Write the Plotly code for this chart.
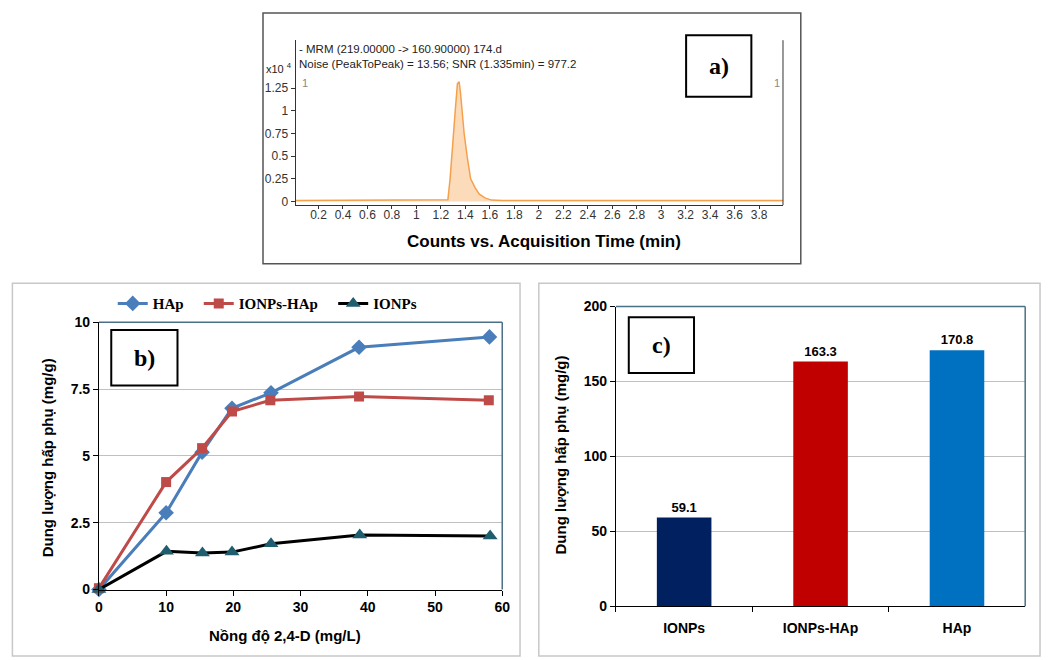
import plotly.graph_objects as go

# ---------------- data ----------------
# panel a: chromatogram (counts x10^4 vs acquisition time, min)
time_min = [0.013, 1.20, 1.257, 1.275, 1.294, 1.317, 1.335, 1.349, 1.36, 1.371, 1.39, 1.414, 1.443, 1.48, 1.514, 1.56, 1.614, 1.70, 3.995]
counts_x1e4 = [0.012, 0.012, 0.02, 0.25, 0.55, 1.0, 1.3, 1.32, 1.2, 1.0, 0.75, 0.5, 0.25, 0.15, 0.08, 0.04, 0.015, 0.012, 0.012]
a_yticks = [0, 0.25, 0.5, 0.75, 1, 1.25]
a_ytick_text = ["0", "0.25", "0.5", "0.75", "1", "1.25"]
a_header1 = "- MRM (219.00000 -> 160.90000) 174.d"
a_header2 = "Noise (PeakToPeak) = 13.56; SNR (1.335min) = 977.2"
a_xtitle = "Counts vs. Acquisition Time (min)"

# panel b: adsorption capacity vs 2,4-D concentration
hap_x = [0, 10.0, 15.35, 19.8, 25.6, 38.7, 58.1]
hap_y = [0, 2.87, 5.14, 6.78, 7.36, 9.06, 9.45]
ionps_hap_x = [0, 10.0, 15.35, 19.8, 25.5, 38.7, 58.0]
ionps_hap_y = [0.05, 4.02, 5.29, 6.66, 7.08, 7.22, 7.08]
ionps_x = [0, 10.05, 15.4, 19.8, 25.6, 38.8, 58.2]
ionps_y = [0, 1.43, 1.37, 1.40, 1.71, 2.04, 2.00]
b_yticks = [0, 2.5, 5, 7.5, 10]
b_ytick_text = ["0", "2.5", "5", "7.5", "10"]
b_xtitle = "Nồng độ 2,4-D (mg/L)"
ytitle = "Dung lượng hấp phụ (mg/g)"

# panel c: maximum adsorption capacity
c_categories = ["IONPs", "IONPs-HAp", "HAp"]
c_values = [59.1, 163.3, 170.8]
c_labels = ["59.1", "163.3", "170.8"]

# ---------------- styling ----------------
W, H = 1050, 660
def px(x):
    return x / W
def py(y):
    return 1 - y / H

ORANGE = "#F5A04A"
ORANGE_FILL = "rgba(250,200,150,0.65)"
BLUE = "#4A7EBB"
RED = "#BE4B48"
TEAL = "#1F5E6E"
FRAME = "#4A7088"
GRID = "#C0C0C0"
BAR_COLORS = ["#002060", "#C00000", "#0070C0"]
SANS = "Liberation Sans"
SERIF = "Liberation Serif"

fig = go.Figure()

# panel a
fig.add_trace(go.Scatter(x=time_min, y=counts_x1e4, mode="lines", fill="tozeroy",
                         line=dict(color=ORANGE, width=1.5), fillcolor=ORANGE_FILL,
                         showlegend=False, xaxis="x", yaxis="y", hoverinfo="skip"))

# panel b
fig.add_trace(go.Scatter(x=hap_x, y=hap_y, name="HAp", mode="lines+markers",
                         line=dict(color=BLUE, width=3),
                         marker=dict(symbol="diamond", size=12, color=BLUE),
                         cliponaxis=False, xaxis="x2", yaxis="y2", legend="legend"))
fig.add_trace(go.Scatter(x=ionps_hap_x, y=ionps_hap_y, name="IONPs-HAp", mode="lines+markers",
                         line=dict(color=RED, width=3),
                         marker=dict(symbol="square", size=10, color=RED),
                         cliponaxis=False, xaxis="x2", yaxis="y2", legend="legend2"))
fig.add_trace(go.Scatter(x=ionps_x, y=ionps_y, name="IONPs", mode="lines+markers",
                         line=dict(color="black", width=3),
                         marker=dict(symbol="triangle-up", size=13, color=TEAL),
                         cliponaxis=False, xaxis="x2", yaxis="y2", legend="legend3"))

# panel c
fig.add_trace(go.Bar(x=c_categories, y=c_values, text=c_labels, textposition="outside",
                     textfont=dict(family=SANS, size=13, color="black", weight="bold"),
                     marker=dict(color=BAR_COLORS, line=dict(width=0)), width=0.4,
                     cliponaxis=False, showlegend=False, xaxis="x3", yaxis="y3"))

tick_bold = dict(family=SANS, size=14, color="black", weight="bold")
legend_common = dict(orientation="h", yanchor="middle", y=py(303), xanchor="left",
                     font=dict(family=SERIF, size=15, color="black", weight="bold"),
                     bgcolor="rgba(0,0,0,0)", itemwidth=30, tracegroupgap=0)

fig.update_layout(
    width=W, height=H, margin=dict(l=0, r=0, t=0, b=0),
    paper_bgcolor="white", plot_bgcolor="white",
    font=dict(family=SANS, color="black"),
    xaxis=dict(domain=[px(295), px(788)], range=[0.013, 3.995], tick0=0, dtick=0.2,
               showgrid=False, zeroline=False, showline=True, linecolor="#333", linewidth=1,
               ticks="outside", ticklen=3, tickcolor="#333", ticklabelstandoff=-5,
               tickfont=dict(family=SANS, size=12, color="#333"), anchor="y"),
    yaxis=dict(domain=[py(202), py(33)], range=[-0.04, 1.78], tickvals=a_yticks, ticktext=a_ytick_text,
               showgrid=False, zeroline=False, showline=True, linecolor="#333", linewidth=1,
               ticks="outside", ticklen=4, tickcolor="#333",
               tickfont=dict(family=SANS, size=12, color="#333"), anchor="x"),
    xaxis2=dict(domain=[px(96), px(504)], range=[0, 60], dtick=10,
                showgrid=False, zeroline=False, showline=True, linecolor="black", linewidth=1,
                ticks="outside", ticklen=5, tickcolor="black", tickfont=tick_bold, anchor="y2"),
    yaxis2=dict(domain=[py(596), py(322)], range=[0, 10], tickvals=b_yticks, ticktext=b_ytick_text,
                showgrid=True, gridcolor=GRID, gridwidth=1, zeroline=False,
                showline=True, linecolor="black", linewidth=1,
                ticks="outside", ticklen=5, tickcolor="black", tickfont=tick_bold, anchor="x2"),
    xaxis3=dict(domain=[px(619), px(1033)], range=[-0.5, 2.5], type="category",
                showgrid=False, zeroline=False, showline=True, linecolor="black", linewidth=1,
                ticks="outside", ticklen=5, tickcolor="black", tickson="boundaries",
                ticklabelstandoff=9, tickfont=tick_bold, anchor="y3"),
    yaxis3=dict(domain=[py(613), py(306)], range=[0, 200], dtick=50,
                showgrid=True, gridcolor=GRID, gridwidth=1, zeroline=False,
                showline=True, linecolor="black", linewidth=1,
                ticks="outside", ticklen=5, tickcolor="black", tickfont=tick_bold, anchor="x3"),
    legend=dict(legend_common, x=px(110)),
    legend2=dict(legend_common, x=px(197)),
    legend3=dict(legend_common, x=px(333)),
)

shapes = []
# outer panel boxes
shapes.append(dict(type="rect", xref="paper", yref="paper", x0=px(262), x1=px(806), y0=py(262), y1=py(5),
                   line=dict(color="#555555", width=1.5)))
shapes.append(dict(type="rect", xref="paper", yref="paper", x0=px(8.5), x1=px(522), y0=py(664), y1=py(282),
                   line=dict(color="#C8C8C8", width=1.5)))
shapes.append(dict(type="rect", xref="paper", yref="paper", x0=px(541), x1=px(1048), y0=py(664), y1=py(282),
                   line=dict(color="#C8C8C8", width=1.5)))
# right axis line of panel a
shapes.append(dict(type="line", xref="x domain", yref="y domain", x0=1, x1=1, y0=0, y1=1,
                   line=dict(color="#333", width=1)))
# top/right frame of panels b and c
for xr, yr in (("x2 domain", "y2 domain"), ("x3 domain", "y3 domain")):
    shapes.append(dict(type="line", xref=xr, yref=yr, x0=0, x1=1, y0=1, y1=1, line=dict(color=FRAME, width=1.5)))
    shapes.append(dict(type="line", xref=xr, yref=yr, x0=1, x1=1, y0=0, y1=1, line=dict(color=FRAME, width=1.5)))
# label boxes a), b), c)
label_boxes = [("a)", 690, 756, 28, 91), ("b)", 108.5, 175.5, 330, 387), ("c)", 632, 698, 317, 374)]
annotations = []
for txt, x0, x1, y0, y1 in label_boxes:
    shapes.append(dict(type="rect", xref="paper", yref="paper", x0=px(x0), x1=px(x1), y0=py(y1), y1=py(y0),
                       line=dict(color="black", width=2), fillcolor="white", layer="below"))
    annotations.append(dict(text=txt, xref="paper", yref="paper", x=px((x0 + x1) / 2), y=py((y0 + y1) / 2),
                            showarrow=False, xanchor="center", yanchor="middle",
                            font=dict(family=SERIF, size=24, color="black", weight="bold")))

# panel a texts
annotations += [
    dict(text=a_header1, xref="paper", yref="paper", x=px(296), y=py(42), xanchor="left", yanchor="middle",
         showarrow=False, font=dict(family=SANS, size=11.5, color="#222")),
    dict(text=a_header2, xref="paper", yref="paper", x=px(296), y=py(57), xanchor="left", yanchor="middle",
         showarrow=False, font=dict(family=SANS, size=11.5, color="#222")),
    dict(text="x10 <sup>4</sup>", xref="paper", yref="paper", x=px(263), y=py(61), xanchor="left", yanchor="middle",
         showarrow=False, font=dict(family=SANS, size=11, color="#222")),
    dict(text="1", xref="paper", yref="paper", x=px(299), y=py(77), xanchor="left", yanchor="middle",
         showarrow=False, font=dict(family=SANS, size=11, color="#888")),
    dict(text="1", xref="paper", yref="paper", x=px(782), y=py(77), xanchor="center", yanchor="middle",
         showarrow=False, font=dict(family=SANS, size=11, color="#888")),
    dict(text=a_xtitle, xref="paper", yref="paper", x=px(546), y=py(239), xanchor="center", yanchor="middle",
         showarrow=False, font=dict(family=SANS, size=17, color="black", weight="bold")),
]
# panel b / c titles
annotations += [
    dict(text=ytitle, xref="paper", yref="paper", x=px(44), y=py(461), textangle=-90,
         xanchor="center", yanchor="middle", showarrow=False,
         font=dict(family=SANS, size=15, color="black", weight="bold")),
    dict(text=b_xtitle, xref="paper", yref="paper", x=px(284), y=py(643), xanchor="center", yanchor="middle",
         showarrow=False, font=dict(family=SANS, size=15, color="black", weight="bold")),
    dict(text=ytitle, xref="paper", yref="paper", x=px(563), y=py(458), textangle=-90,
         xanchor="center", yanchor="middle", showarrow=False,
         font=dict(family=SANS, size=15, color="black", weight="bold")),
]

fig.update_layout(shapes=shapes, annotations=annotations)
fig.write_html("out.html")
